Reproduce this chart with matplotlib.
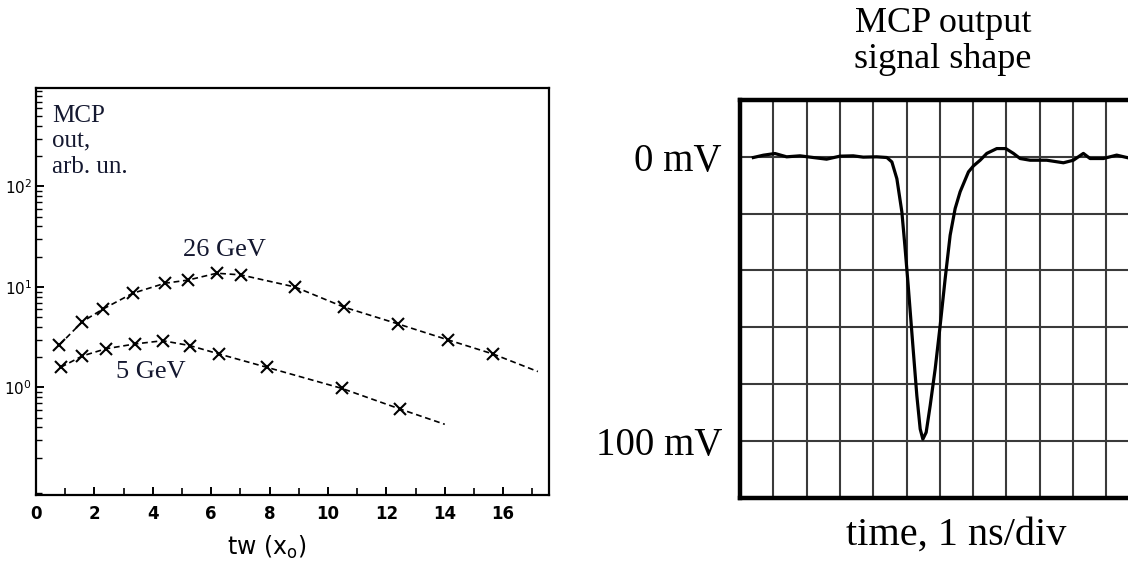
import numpy as np
import matplotlib
matplotlib.use("Agg")
import matplotlib.pyplot as plt
from matplotlib.ticker import LogLocator, NullFormatter, FixedLocator

# --- left panel: MCP output vs absorber depth (log scale) ---
x_26gev = [0.80, 1.59, 2.28, 3.31, 4.42, 5.20, 6.19, 7.01, 8.87, 10.55, 12.41, 14.12, 15.66]
y_26gev = [2.65, 4.52, 6.0, 8.65, 10.9, 11.7, 13.7, 13.2, 10.0, 6.3, 4.28, 2.97, 2.15]
tail_26gev = (17.19, 1.44)   # where the dashed curve ends

x_5gev = [0.85, 1.59, 2.40, 3.39, 4.34, 5.27, 6.28, 7.90, 10.47, 12.47]
y_5gev = [1.59, 2.06, 2.43, 2.71, 2.92, 2.61, 2.15, 1.59, 0.98, 0.61]
tail_5gev = (14.0, 0.43)

x_ticks = [0, 2, 4, 6, 8, 10, 12, 14, 16]
y_ticks = [1, 10, 100]

# --- right panel: scope trace (time in ns, amplitude in mV) ---
t_ns = [0.40, 0.70, 1.05, 1.40, 1.80, 2.20, 2.60, 3.00, 3.40, 3.70, 4.10, 4.41,
        4.56, 4.71, 4.86, 4.95, 5.05, 5.19, 5.31, 5.41, 5.49, 5.59, 5.71, 5.86,
        6.01, 6.16, 6.31, 6.46, 6.61, 6.86, 7.01, 7.21, 7.41, 7.71, 7.98, 8.21,
        8.41, 8.71, 9.21, 9.71, 10.01, 10.31, 10.51, 10.91, 11.31, 11.65]
v_mv = [-0.25, 0.57, 1.16, 0.0, 0.35, -0.25, -0.83, 0.23, 0.35, -0.12, 0.0, -0.25,
        -1.8, -7.7, -19.4, -31.2, -45.3, -66.4, -84.1, -95.8, -99.4, -97.0, -87.6, -74.7,
        -59.4, -42.9, -27.6, -18.2, -12.3, -5.3, -3.2, -1.2, 1.2, 2.9, 2.9, 1.2,
        -0.6, -1.2, -1.2, -2.1, -1.2, 1.2, -0.6, -0.6, 0.6, -0.35]
grid_mv = [0, -20, -40, -60, -80, -100]
grid_ns = list(range(1, 12))

serif = "Liberation Serif"
ink = "#141830"

fig = plt.figure(figsize=(11.28, 5.74), dpi=100)

# left plot
ax1 = fig.add_axes([36 / 1128, 79 / 574, 513 / 1128, 407 / 574])
ax1.set_yscale("log")
ax1.set_xlim(0, 17.57)
ax1.set_ylim(10 ** -1.07, 10 ** 2.98)

dash = (0, (3.5, 2.2))
ax1.plot(x_26gev + [tail_26gev[0]], y_26gev + [tail_26gev[1]], color="black",
         lw=1.2, linestyle=dash)
ax1.plot(x_26gev, y_26gev, linestyle="none", marker="x", ms=8, mew=1.5, color="black")
ax1.plot(x_5gev + [tail_5gev[0]], y_5gev + [tail_5gev[1]], color="black",
         lw=1.2, linestyle=dash)
ax1.plot(x_5gev, y_5gev, linestyle="none", marker="x", ms=8, mew=1.5, color="black")

for s in ax1.spines.values():
    s.set_linewidth(1.6)
ax1.set_xticks(x_ticks)
ax1.xaxis.set_minor_locator(FixedLocator(range(1, 18)))
ax1.set_yticks(y_ticks, labels=[r"$10^{0}$", r"$10^{1}$", r"$10^{2}$"])
ax1.yaxis.set_minor_locator(LogLocator(base=10, subs=np.arange(2, 10), numticks=10))
ax1.yaxis.set_minor_formatter(NullFormatter())
ax1.tick_params(axis="both", which="both", direction="in", top=False, right=False)
ax1.tick_params(axis="x", which="major", length=6, width=1.4, pad=7, labelsize=12)
ax1.tick_params(axis="x", which="minor", length=5, width=1.2)
ax1.tick_params(axis="y", which="major", length=6, width=1.4, pad=3, labelsize=11)
ax1.tick_params(axis="y", which="minor", length=4, width=1.0)
for lab in ax1.get_xticklabels():
    lab.set_fontweight("bold")
ax1.set_xlabel(r"tw ($\mathregular{x_o}$)", fontsize=17)
ax1.xaxis.set_label_coords(0.45, -0.095)

ax1.text(0.031, 0.958, "MCP\nout,\narb. un.", transform=ax1.transAxes, ha="left",
         va="top", fontsize=18, family=serif, color=ink, linespacing=1.2)
ax1.text(5.03, 20.3, "26 GeV", ha="left", va="baseline", fontsize=19,
         family=serif, color=ink)
ax1.text(2.74, 1.24, "5 GeV", ha="left", va="baseline", fontsize=19,
         family=serif, color=ink)

# right plot
ax2 = fig.add_axes([740 / 1128, 76.3 / 574, 388 / 1128, 397.7 / 574])
ax2.set_xlim(0, 11.65)
ax2.set_ylim(-120, 20)
ax2.set_xticks(grid_ns)
ax2.set_xticklabels([])
ax2.set_yticks(grid_mv)
ax2.set_yticklabels(["0 mV" if v == 0 else "100 mV" if v == -100 else "" for v in grid_mv],
                    family=serif, fontsize=28)
ax2.tick_params(length=0, pad=13)
ax2.grid(True, color="#3a3a3a", lw=1.5)
ax2.set_axisbelow(True)
ax2.spines["right"].set_visible(False)
for k in ("left", "top", "bottom"):
    ax2.spines[k].set_linewidth(3.2)
ax2.plot(t_ns, v_mv, color="black", lw=2.3)

ax2.text(0.523, 1.17, "MCP output", transform=ax2.transAxes,
         ha="center", va="baseline", fontsize=26, family=serif)
ax2.text(0.523, 1.08, "signal shape", transform=ax2.transAxes,
         ha="center", va="baseline", fontsize=26, family=serif)
ax2.text(0.557, -0.119, "time, 1 ns/div", transform=ax2.transAxes,
         ha="center", va="baseline", fontsize=29, family=serif)

fig.savefig("out.png", dpi=100)
